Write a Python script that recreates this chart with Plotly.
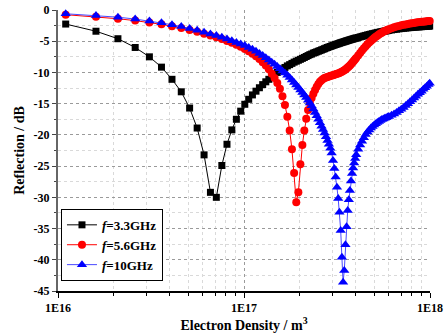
import plotly.graph_objects as go

# Electron density (units of 1e16 m^-3)
density = [1.1, 1.6, 2.1, 2.6, 3.1, 3.6, 4.1, 4.6, 5.1, 5.6, 6.1, 6.6, 7.1, 7.6, 8.1, 8.6, 9.1, 9.6,
           10.1, 10.6, 11.1, 11.6, 12.1, 12.6, 13.1, 13.6, 14.1, 14.6, 15.1, 15.6, 16.1, 16.6, 17.1, 17.6,
           18.1, 18.6, 19.1, 19.6, 20.1, 20.6, 21.1, 21.6, 22.1, 22.6, 23.1, 23.6, 24.1, 24.6, 25.1, 25.6,
           26.1, 26.6, 27.1, 27.6, 28.1, 28.6, 29.1, 29.6, 30.1, 30.6, 31.1, 31.6, 32.1, 32.6, 33.1, 33.6,
           34.1, 34.6, 35.1, 35.6, 36.1, 36.6, 37.1, 37.6, 38.1, 38.6, 39.1, 39.6, 40.1,
           41.1, 42.1, 43.1, 44.1, 45.1, 46.1, 47.1, 48.1, 49.1, 50.1, 51.1, 52.1, 53.1, 54.1, 55.1, 56.1,
           57.1, 58.1, 59.1, 60.1,
           62.1, 64.1, 66.1, 68.1, 70.1, 72.1, 74.1, 76.1, 78.1, 80.1, 82.1, 84.1, 86.1, 88.1, 90.1, 92.1,
           94.1, 96.1, 98.1, 99.6]

refl_3_3 = [-2.25, -3.4, -4.6, -6.0, -7.5, -9.15, -11.1, -13.1, -15.7, -18.9, -23.2, -29.2, -30.0, -24.9,
            -21.5, -19.2, -17.5, -16.2, -15.1, -14.3, -13.6, -13.0, -12.45, -11.95, -11.5, -11.1, -10.7,
            -10.35, -10.0, -9.7, -9.45, -9.2, -8.95, -8.75, -8.55, -8.35, -8.2, -8.05, -7.9, -7.75, -7.6,
            -7.45, -7.3, -7.15, -7.05, -6.9, -6.8, -6.7, -6.6, -6.5, -6.4, -6.3, -6.2, -6.1, -6.0, -5.92,
            -5.84, -5.76, -5.68, -5.6, -5.53, -5.46, -5.39, -5.32, -5.25, -5.19, -5.13, -5.07, -5.01, -4.95,
            -4.9, -4.84, -4.78, -4.73, -4.68, -4.63, -4.58, -4.53, -4.48,
            -4.4, -4.31, -4.23, -4.15, -4.07, -4.0, -3.93, -3.86, -3.8, -3.74, -3.68, -3.62, -3.57, -3.52,
            -3.47, -3.42, -3.38, -3.34, -3.3, -3.26,
            -3.19, -3.13, -3.07, -3.02, -2.97, -2.93, -2.89, -2.85, -2.82, -2.79, -2.76, -2.73, -2.71, -2.69,
            -2.67, -2.65, -2.63, -2.61, -2.6, -2.58]

refl_5_6 = [-0.75, -1.1, -1.4, -1.7, -2.0, -2.3, -2.6, -2.9, -3.2, -3.5, -3.8, -4.1, -4.35, -4.65, -4.95,
            -5.25, -5.55, -5.9, -6.25, -6.6, -7.0, -7.4, -7.85, -8.35, -8.9, -9.5, -10.2, -10.9, -11.7, -12.6,
            -13.8, -15.2, -17.1, -19.3, -22.3, -26.1, -30.8, -29.2, -24.7, -21.6, -19.3, -17.4, -16.0, -14.9,
            -14.1, -13.4, -12.8, -12.3, -11.85, -11.5, -11.25, -11.05, -10.9, -10.8, -10.72, -10.65, -10.58,
            -10.5, -10.43, -10.36, -10.29, -10.22, -10.15, -10.07, -9.98, -9.88, -9.77, -9.65, -9.52, -9.38,
            -9.22, -9.05, -8.87, -8.68, -8.48, -8.28, -8.08, -7.88, -7.68,
            -7.28, -6.88, -6.5, -6.14, -5.8, -5.5, -5.22, -4.96, -4.72, -4.5, -4.3, -4.11, -3.94, -3.78,
            -3.63, -3.5, -3.38, -3.27, -3.17, -3.08,
            -2.92, -2.78, -2.66, -2.55, -2.46, -2.38, -2.31, -2.24, -2.18, -2.12, -2.07, -2.02, -1.98, -1.94,
            -1.9, -1.87, -1.84, -1.81, -1.78, -1.76]

refl_10 = [-0.6, -0.9, -1.15, -1.45, -1.75, -2.05, -2.35, -2.65, -2.95, -3.25, -3.55, -3.85, -4.1, -4.38,
           -4.65, -4.92, -5.2, -5.45, -5.7, -6.0, -6.3, -6.6, -6.95, -7.3, -7.65, -8.0, -8.35, -8.7, -9.05,
           -9.4, -9.75, -10.1, -10.45, -10.8, -11.2, -11.6, -12.0, -12.4, -12.8, -13.2, -13.6, -14.0, -14.45,
           -14.9, -15.35, -15.85, -16.4, -16.95, -17.5, -18.05, -18.6, -19.15, -19.7, -20.3, -20.9, -21.5,
           -22.15, -22.9, -24.1, -25.4, -26.75, -28.4, -30.2, -32.4, -35.3, -39.6, -43.6, -41.7, -37.6,
           -34.7, -32.1, -30.4, -28.9, -27.4, -26.2, -25.3, -24.5, -23.8, -23.2,
           -22.3, -21.6, -21.0, -20.45, -19.95, -19.55, -19.2, -18.9, -18.65, -18.4, -18.2, -18.0, -17.85,
           -17.7, -17.55, -17.45, -17.35, -17.25, -17.15, -17.05,
           -16.85, -16.65, -16.4, -16.15, -15.9, -15.6, -15.3, -15.0, -14.7, -14.4, -14.1, -13.8, -13.5,
           -13.25, -13.0, -12.7, -12.45, -12.2, -11.95, -11.75]

series_names = ["<i>f</i>=3.3GHz", "<i>f</i>=5.6GHz", "<i>f</i>=10GHz"]
x_tick_vals = [1e16, 1e17, 1e18]
x_tick_text = ["1E16", "1E17", "1E18"]
y_tick_vals = [0, -5, -10, -15, -20, -25, -30, -35, -40, -45]
y_tick_text = ["0", "-5", "-10", "-15", "-20", "-25", "-30", "-35", "-40", "-45"]

x = [d * 1e16 for d in density]
FONT = "Liberation Serif"

fig = go.Figure()
fig.add_trace(go.Scatter(x=x, y=refl_3_3, mode="lines+markers", name=series_names[0],
                         line=dict(color="black", width=1),
                         marker=dict(symbol="square", size=7, color="black"), cliponaxis=False))
fig.add_trace(go.Scatter(x=x, y=refl_5_6, mode="lines+markers", name=series_names[1],
                         line=dict(color="#ff0000", width=1),
                         marker=dict(symbol="circle", size=8, color="#ff0000"), cliponaxis=False))
fig.add_trace(go.Scatter(x=x, y=refl_10, mode="lines+markers", name=series_names[2],
                         line=dict(color="#4a4aff", width=1),
                         marker=dict(symbol="triangle-up", size=9, color="#0000ff"), cliponaxis=False))

minor_x = [k * 1e16 for k in range(2, 10)] + [k * 1e17 for k in range(2, 10)]

fig.update_layout(
    width=446, height=335,
    margin=dict(l=58, r=16, t=10, b=44),
    paper_bgcolor="white", plot_bgcolor="white",
    font=dict(family=FONT, color="black", size=12, weight="bold"),
    showlegend=True,
    legend=dict(x=0.008, y=0.036, xanchor="left", yanchor="bottom",
                bordercolor="black", borderwidth=1, bgcolor="white",
                font=dict(family=FONT, size=13, weight="bold"),
                tracegroupgap=0, itemwidth=30),
    xaxis=dict(type="log", range=[16, 18], tickvals=x_tick_vals, ticktext=x_tick_text,
               automargin=False,
               showline=True, linecolor="black", linewidth=2,
               ticks="outside", ticklen=5, tickwidth=1, tickcolor="black",
               showgrid=True, gridcolor="#9a9a9a", griddash="dot", gridwidth=1,
               tickfont=dict(family=FONT, size=12, weight="bold"),
               zeroline=False,
               minor=dict(tickvals=minor_x, ticks="outside", ticklen=3, tickcolor="black",
                          showgrid=True, gridcolor="#d9d9d9", griddash="dot", gridwidth=1),
               title=dict(text="Electron Density / m<sup>3</sup>", standoff=1,
                          font=dict(family=FONT, size=14, weight="bold"))),
    yaxis=dict(range=[-45, 0], tickvals=y_tick_vals, ticktext=y_tick_text,
               automargin=False,
               showline=True, linecolor="#666666", linewidth=2,
               ticks="outside", ticklen=4, tickwidth=1, tickcolor="#444444",
               showgrid=True, gridcolor="#9a9a9a", griddash="dot", gridwidth=1,
               tickfont=dict(family=FONT, size=12, weight="bold"),
               zeroline=False,
               minor=dict(dtick=2.5, ticks="outside", ticklen=2, tickcolor="#444444",
                          showgrid=True, gridcolor="#d9d9d9", griddash="dot", gridwidth=1),
               title=dict(text="Reflection / dB", standoff=6,
                          font=dict(family=FONT, size=14, weight="bold"))),
)

fig.write_html("out.html")
